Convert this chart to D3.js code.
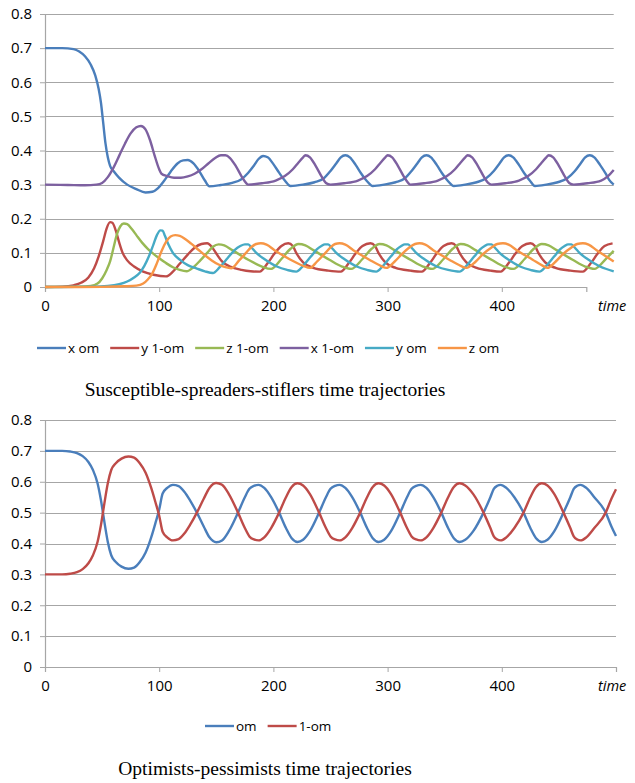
<!DOCTYPE html>
<html>
<head>
<meta charset="utf-8">
<script src="https://cdn.jsdelivr.net/npm/d3@7"></script>
<style>
  body { margin: 0; background: #fff; }
  svg text { font-family: "Open Sans", sans-serif; }
</style>
</head>
<body>
<div id="chart"></div>
<script>
// Tick labels
const yTicks = [0, 0.1, 0.2, 0.3, 0.4, 0.5, 0.6, 0.7, 0.8];
const xTicks = [0, 100, 200, 300, 400];

// Top chart series, [time, value]
const xOm = [[0,0.700],[15,0.700],[25,0.697],[30,0.690],[35,0.676],[40,0.652],[44,0.620],[47,0.580],[49,0.540],[51,0.480],[53,0.420],[55,0.380],[57,0.355],[60,0.340],[65,0.320],[72,0.300],[80,0.287],[88,0.277],[94,0.279],[99,0.290],[104,0.310],[110,0.338],[116,0.362],[121,0.371],[125,0.372],[130,0.362],[135,0.340],[140,0.312],[144,0.295],
  [154,0.299],[164,0.305],[172,0.316],[178,0.335],[183,0.356],[187,0.375],[191,0.384],[195,0.380],[200,0.360],[205,0.335],[210,0.312],[215,0.296],
  [226,0.300],[236,0.307],[244,0.318],[250,0.340],[255,0.362],[259,0.380],[263,0.386],[267,0.380],[272,0.358],[277,0.332],[282,0.310],[287,0.296],
  [297,0.300],[307,0.307],[315,0.318],[321,0.340],[326,0.362],[330,0.380],[334,0.386],[338,0.380],[343,0.358],[348,0.332],[353,0.310],[358,0.296],
  [368,0.300],[378,0.307],[386,0.318],[393,0.340],[398,0.362],[402,0.380],[406,0.386],[410,0.380],[415,0.358],[420,0.332],[425,0.310],[429,0.296],
  [439,0.300],[449,0.307],[457,0.318],[464,0.340],[469,0.362],[473,0.380],[477,0.386],[481,0.380],[486,0.358],[491,0.332],[494,0.314],[498,0.300]];

const y1mOm = [[0,0],[15,0.001],[25,0.005],[32,0.013],[38,0.028],[43,0.055],[47,0.090],[51,0.135],[54,0.172],[57,0.190],[59,0.188],[62,0.165],[65,0.130],[68,0.100],[72,0.078],[78,0.060],[86,0.045],[95,0.036],[106,0.031],[112,0.045],[118,0.068],[125,0.095],[131,0.115],[137,0.126],[142,0.128],[146,0.118],[150,0.098],[155,0.075],[162,0.060],[172,0.050],[180,0.046],[188,0.045],
  [195,0.070],[201,0.098],[207,0.120],[213,0.128],[217,0.120],[220,0.100],[226,0.072],[235,0.056],[248,0.048],[259,0.045],
  [266,0.070],[272,0.098],[278,0.120],[285,0.128],[289,0.120],[292,0.100],[298,0.072],[307,0.056],[320,0.048],[330,0.045],
  [337,0.070],[343,0.098],[349,0.120],[356,0.128],[360,0.120],[363,0.100],[369,0.072],[378,0.056],[390,0.048],[399,0.045],
  [406,0.070],[412,0.098],[418,0.120],[425,0.128],[429,0.120],[432,0.100],[438,0.072],[447,0.056],[460,0.048],[471,0.045],
  [478,0.070],[484,0.098],[490,0.120],[497,0.128]];

const z1mOm = [[0,0],[30,0.001],[40,0.003],[46,0.010],[50,0.025],[54,0.050],[57,0.075],[60,0.115],[63,0.155],[66,0.178],[69,0.186],[72,0.184],[76,0.170],[80,0.152],[85,0.130],[90,0.112],[95,0.097],[100,0.084],[106,0.070],[112,0.058],[118,0.050],[124,0.046],
  [130,0.058],[136,0.078],[142,0.100],[147,0.118],[152,0.125],[157,0.122],[164,0.108],[178,0.080],[190,0.060],[198,0.053],
  [207,0.082],[215,0.112],[222,0.126],[228,0.122],[235,0.108],[249,0.080],[260,0.060],[268,0.053],
  [278,0.082],[286,0.112],[293,0.126],[299,0.122],[306,0.108],[320,0.080],[331,0.060],[339,0.053],
  [349,0.082],[357,0.112],[364,0.126],[370,0.122],[377,0.108],[391,0.080],[402,0.060],[410,0.053],
  [420,0.082],[428,0.112],[435,0.126],[441,0.122],[448,0.108],[462,0.080],[473,0.060],[481,0.053],
  [491,0.082],[498,0.106]];

const x1mOm = [[0,0.300],[20,0.299],[35,0.298],[45,0.300],[50,0.305],[55,0.322],[60,0.350],[65,0.385],[70,0.420],[75,0.450],[80,0.468],[84,0.472],[88,0.462],[92,0.430],[96,0.385],[100,0.345],[102,0.332],[107,0.325],[113,0.320],[119,0.320],[125,0.324],[131,0.332],[137,0.345],[143,0.362],[149,0.378],[154,0.386],[158,0.386],[162,0.378],[167,0.355],[172,0.325],[176,0.305],[178,0.300],
  [190,0.304],[202,0.312],[210,0.325],[217,0.345],[222,0.365],[226,0.380],[228,0.386],[232,0.380],[237,0.355],[242,0.325],[246,0.305],[250,0.300],
  [262,0.304],[274,0.312],[282,0.325],[289,0.345],[294,0.365],[298,0.380],[300,0.386],[304,0.380],[309,0.355],[314,0.325],[318,0.305],[320,0.300],
  [332,0.304],[344,0.312],[352,0.325],[359,0.345],[364,0.365],[368,0.380],[370,0.386],[374,0.380],[379,0.355],[384,0.325],[388,0.305],[391,0.300],
  [403,0.304],[415,0.312],[423,0.325],[430,0.345],[435,0.365],[439,0.380],[441,0.386],[445,0.380],[450,0.355],[455,0.325],[459,0.305],[463,0.300],
  [475,0.304],[487,0.312],[493,0.325],[498,0.343]];

const yOm = [[0,0],[40,0.001],[55,0.003],[65,0.008],[72,0.016],[78,0.028],[83,0.042],[87,0.062],[91,0.090],[95,0.125],[98,0.152],[101,0.166],[103,0.165],[105,0.150],[108,0.125],[112,0.100],[118,0.080],[125,0.064],[133,0.054],[140,0.046],[147,0.041],
  [153,0.058],[160,0.085],[166,0.108],[171,0.120],[175,0.125],[178,0.125],[181,0.115],[185,0.100],[192,0.082],[203,0.060],[212,0.050],[220,0.045],
  [226,0.062],[233,0.090],[238,0.110],[242,0.120],[245,0.125],[248,0.125],[251,0.115],[255,0.100],[262,0.082],[273,0.060],[282,0.050],[290,0.045],
  [296,0.062],[303,0.090],[308,0.110],[312,0.120],[315,0.125],[318,0.125],[321,0.115],[325,0.100],[332,0.082],[343,0.060],[353,0.050],[363,0.045],
  [369,0.062],[376,0.090],[381,0.110],[385,0.120],[388,0.125],[391,0.125],[394,0.115],[398,0.100],[405,0.082],[416,0.060],[425,0.050],[433,0.045],
  [439,0.062],[446,0.090],[451,0.110],[455,0.120],[458,0.125],[461,0.125],[464,0.115],[468,0.100],[475,0.082],[486,0.060],[498,0.046]];

const zOm = [[0,0],[50,0.0005],[70,0.002],[80,0.004],[86,0.010],[90,0.022],[94,0.040],[98,0.070],[102,0.105],[106,0.132],[110,0.148],[114,0.152],[118,0.150],[123,0.140],[128,0.127],[134,0.110],[140,0.093],[146,0.078],[152,0.066],[158,0.058],[163,0.055],
  [170,0.078],[176,0.100],[181,0.118],[185,0.126],[189,0.128],[194,0.124],[201,0.108],[215,0.080],[226,0.062],[232,0.056],
  [238,0.074],[245,0.098],[250,0.116],[254,0.126],[258,0.128],[263,0.124],[270,0.108],[284,0.080],[294,0.062],[299,0.056],
  [306,0.074],[313,0.098],[319,0.116],[324,0.126],[328,0.128],[333,0.124],[340,0.108],[354,0.080],[364,0.062],[369,0.056],
  [377,0.074],[384,0.098],[391,0.116],[396,0.126],[401,0.128],[406,0.124],[413,0.108],[427,0.080],[436,0.062],[440,0.056],
  [447,0.074],[454,0.098],[461,0.116],[466,0.126],[471,0.128],[476,0.124],[483,0.108],[498,0.075]];

// Bottom chart series
const om = [[0,0.700],[15,0.700],[22,0.698],[28,0.693],[33,0.683],[38,0.664],[42,0.638],[46,0.595],[49,0.540],[52,0.470],[55,0.405],[58,0.362],[62,0.340],[67,0.325],[73,0.318],[78,0.322],[83,0.340],[88,0.370],[93,0.420],[97,0.470],[100,0.510],[103,0.562],[107,0.580],[112,0.590],[117,0.586],[122,0.568],[127,0.540],[133,0.500],[139,0.455],[144,0.420],[150,0.404],
  [155,0.410],[161,0.440],[169,0.500],[175,0.550],[179,0.577],[183,0.587],[187,0.590],[192,0.580],[198,0.550],[205,0.500],[211,0.450],[216,0.417],[221,0.405],
  [226,0.412],[232,0.440],[240,0.500],[246,0.550],[250,0.577],[254,0.587],[258,0.590],[263,0.580],[269,0.550],[276,0.500],[282,0.450],[287,0.417],[292,0.405],
  [297,0.412],[303,0.440],[311,0.500],[317,0.550],[321,0.577],[325,0.587],[329,0.590],[334,0.580],[340,0.550],[347,0.500],[353,0.450],[358,0.417],[363,0.405],
  [368,0.412],[375,0.440],[384,0.500],[390,0.550],[393,0.577],[396,0.587],[399,0.590],[404,0.580],[411,0.550],[419,0.500],[425,0.450],[430,0.417],[435,0.405],
  [440,0.412],[446,0.440],[454,0.500],[460,0.550],[463,0.577],[466,0.587],[469,0.590],[474,0.580],[481,0.550],[491,0.500],[496,0.455],[500,0.424]];

const oneMinusOm = [[0,0.300],[15,0.300],[22,0.302],[28,0.307],[33,0.317],[38,0.336],[42,0.362],[46,0.405],[49,0.460],[52,0.530],[55,0.595],[58,0.638],[62,0.660],[67,0.675],[73,0.682],[78,0.678],[83,0.660],[88,0.630],[93,0.580],[97,0.530],[100,0.490],[103,0.438],[107,0.420],[112,0.410],[117,0.414],[122,0.432],[127,0.460],[133,0.500],[139,0.545],[144,0.580],[150,0.596],
  [155,0.590],[161,0.560],[169,0.500],[175,0.450],[179,0.423],[183,0.413],[187,0.410],[192,0.420],[198,0.450],[205,0.500],[211,0.550],[216,0.583],[221,0.595],
  [226,0.588],[232,0.560],[240,0.500],[246,0.450],[250,0.423],[254,0.413],[258,0.410],[263,0.420],[269,0.450],[276,0.500],[282,0.550],[287,0.583],[292,0.595],
  [297,0.588],[303,0.560],[311,0.500],[317,0.450],[321,0.423],[325,0.413],[329,0.410],[334,0.420],[340,0.450],[347,0.500],[353,0.550],[358,0.583],[363,0.595],
  [368,0.588],[375,0.560],[384,0.500],[390,0.450],[393,0.423],[396,0.413],[399,0.410],[404,0.420],[411,0.450],[419,0.500],[425,0.550],[430,0.583],[435,0.595],
  [440,0.588],[446,0.560],[454,0.500],[460,0.450],[463,0.423],[466,0.413],[469,0.410],[474,0.420],[481,0.450],[491,0.500],[496,0.545],[500,0.576]];

const topSeries = [
  { name: 'x om', color: '#4A7EBB', data: xOm },
  { name: 'y 1-om', color: '#BE4B48', data: y1mOm },
  { name: 'z 1-om', color: '#98B954', data: z1mOm },
  { name: 'x 1-om', color: '#7D60A0', data: x1mOm },
  { name: 'y om', color: '#46AAC5', data: yOm },
  { name: 'z om', color: '#F79646', data: zOm }
];
const bottomSeries = [
  { name: 'om', color: '#4A7EBB', data: om },
  { name: '1-om', color: '#BE4B48', data: oneMinusOm }
];

const width = 635;
const height = 783;
const gridColor = '#A6A6A6';

const svg = d3.select('#chart').append('svg')
  .attr('width', width)
  .attr('height', height);

function drawPanel(opts) {
  const x = d3.scaleLinear().domain([0, 500]).range([45, 616]);
  const y = d3.scaleLinear().domain([0, 0.8]).range([opts.bottom, opts.top]);
  const g = svg.append('g');

  // gridlines
  g.selectAll('line.grid')
    .data(yTicks.filter(d => d > 0))
    .join('line')
    .attr('x1', x(0)).attr('x2', x(opts.gridEnd))
    .attr('y1', d => Math.round(y(d)) + 0.5).attr('y2', d => Math.round(y(d)) + 0.5)
    .attr('stroke', gridColor).attr('stroke-width', 1.2);

  // y axis
  const yAxis = g.append('g')
    .attr('transform', `translate(${x(0)},0)`)
    .call(d3.axisLeft(y).tickValues(yTicks).tickFormat(d3.format('~g')).tickSizeOuter(0).tickSize(5).tickPadding(8));
  // x axis (the top one stops short of the gridlines, as in the original)
  const xAxis = g.append('g')
    .attr('transform', `translate(0,${opts.bottom})`)
    .call(d3.axisBottom(x.copy().domain([0, opts.axisEnd]).range([x(0), x(opts.axisEnd)]))
      .tickValues(xTicks).tickSizeOuter(0).tickSize(5).tickPadding(8));
  [yAxis, xAxis].forEach(a => {
    a.select('.domain').attr('stroke', gridColor).attr('stroke-width', 1.2);
    a.selectAll('.tick line').attr('stroke', gridColor);
    a.selectAll('.tick text').attr('fill', '#000').style('font-size', '15px').style('font-family', '"Open Sans", sans-serif');
  });

  g.append('text')
    .attr('x', 598).attr('y', opts.bottom + 24)
    .style('font-style', 'italic').style('font-size', '14.5px')
    .text('time');

  const line = d3.line()
    .x(d => x(d[0]))
    .y(d => y(d[1]))
    .curve(d3.curveMonotoneX);

  g.selectAll('path.series')
    .data(opts.series)
    .join('path')
    .attr('fill', 'none')
    .attr('stroke', d => d.color)
    .attr('stroke-width', 2.4)
    .attr('stroke-linejoin', 'round')
    .attr('d', d => line(d.data));

  // legend
  const legend = g.append('g').attr('transform', `translate(${opts.legendX},${opts.legendY})`);
  let offset = 0;
  opts.series.forEach(s => {
    const item = legend.append('g').attr('transform', `translate(${offset},0)`);
    item.append('line').attr('x1', 0).attr('x2', 29).attr('y1', 0).attr('y2', 0)
      .attr('stroke', s.color).attr('stroke-width', 2.4);
    const t = item.append('text').attr('x', 31).attr('y', 5)
      .style('font-size', '13.5px').text(s.name);
    offset += 31 + t.node().getComputedTextLength() + 11;
  });

  svg.append('text')
    .attr('x', 265).attr('y', opts.titleY)
    .attr('text-anchor', 'middle')
    .style('font-family', '"Liberation Serif", "Times New Roman", serif')
    .style('font-size', '19.5px')
    .text(opts.title);
}

drawPanel({
  top: 14, bottom: 287, gridEnd: 498, axisEnd: 474,
  series: topSeries, legendX: 37, legendY: 348, titleY: 396,
  title: 'Susceptible-spreaders-stiflers time trajectories'
});

drawPanel({
  top: 420, bottom: 667, gridEnd: 500, axisEnd: 500,
  series: bottomSeries, legendX: 205, legendY: 726, titleY: 775,
  title: 'Optimists-pessimists time trajectories'
});
</script>
</body>
</html>
